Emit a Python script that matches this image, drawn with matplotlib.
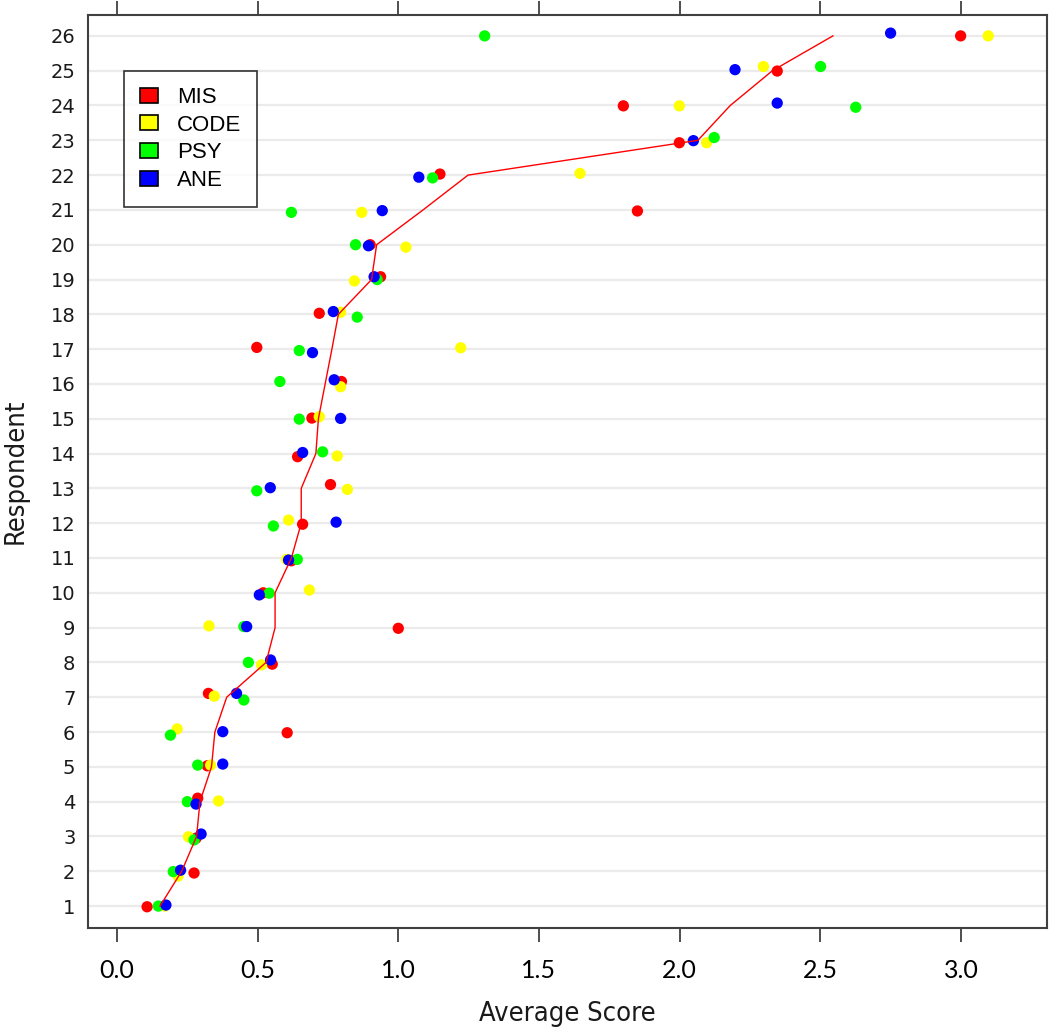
import numpy as np
import matplotlib.pyplot as plt
from matplotlib.patches import Patch

respondent = list(range(1, 27))

# average score per respondent for each group, with the small vertical offsets seen in the chart
mis_x = [0.107, 0.274, 0.281, 0.287, 0.321, 0.605, 0.325, 0.552, 1.0, 0.52, 0.62, 0.66, 0.759,
         0.642, 0.693, 0.798, 0.497, 0.719, 0.937, 0.90, 1.85, 1.148, 1.999, 1.80, 2.347, 2.999]
mis_y = [0.98, 1.95, 2.95, 4.10, 5.03, 5.98, 7.11, 7.95, 8.98, 10.0, 10.92, 11.97, 13.11,
         13.91, 15.02, 16.07, 17.05, 18.03, 19.08, 20.0, 20.97, 22.03, 22.93, 23.99, 24.99, 26.0]

code_x = [0.17, 0.217, 0.254, 0.361, 0.333, 0.214, 0.346, 0.514, 0.327, 0.684, 0.603, 0.61, 0.819,
          0.783, 0.719, 0.795, 1.222, 0.795, 0.844, 1.027, 0.87, 1.646, 2.096, 1.999, 2.298, 3.097]
code_y = [1.0, 1.86, 2.99, 4.02, 5.05, 6.09, 7.03, 7.93, 9.05, 10.08, 10.96, 12.09, 12.97,
          13.93, 15.06, 15.92, 17.04, 18.06, 18.96, 19.93, 20.93, 22.05, 22.93, 23.99, 25.12, 26.0]

psy_x = [0.147, 0.2, 0.274, 0.25, 0.287, 0.19, 0.451, 0.467, 0.451, 0.541, 0.641, 0.556, 0.497,
         0.731, 0.648, 0.579, 0.648, 0.854, 0.925, 0.848, 0.62, 1.122, 2.123, 2.626, 2.501, 1.307]
psy_y = [1.0, 1.99, 2.90, 4.0, 5.05, 5.91, 6.92, 8.0, 9.03, 9.99, 10.96, 11.92, 12.93,
         14.05, 14.99, 16.07, 16.96, 17.92, 19.0, 20.0, 20.93, 21.92, 23.08, 23.95, 25.12, 26.0]

ane_x = [0.174, 0.226, 0.299, 0.281, 0.376, 0.376, 0.425, 0.546, 0.461, 0.506, 0.61, 0.779, 0.545,
         0.66, 0.795, 0.772, 0.695, 0.769, 0.914, 0.894, 0.943, 1.073, 2.049, 2.347, 2.197, 2.75]
ane_y = [1.03, 2.03, 3.07, 3.93, 5.08, 6.01, 7.11, 8.07, 9.03, 9.94, 10.94, 12.03, 13.02,
         14.03, 15.01, 16.12, 16.9, 18.08, 19.08, 19.97, 20.98, 21.94, 22.99, 24.07, 25.03, 26.08]

# overall mean per respondent (red line)
mean_x = [0.153, 0.23, 0.283, 0.295, 0.336, 0.348, 0.39, 0.53, 0.562, 0.562, 0.62, 0.655, 0.655,
          0.707, 0.716, 0.74, 0.764, 0.787, 0.905, 0.923, 1.088, 1.248, 2.065, 2.18, 2.33, 2.545]

groups = ["MIS", "CODE", "PSY", "ANE"]
colors = ["#ff0000", "#ffff00", "#00ff00", "#0000ff"]
xticks = [0.0, 0.5, 1.0, 1.5, 2.0, 2.5, 3.0]

fig = plt.figure(figsize=(10.5, 10.3), dpi=100)
ax = fig.add_axes([88 / 1050, (1030 - 928) / 1030, (1047 - 88) / 1050, (928 - 15) / 1030])

for r in respondent:
    ax.axhline(r, color="#ebebeb", lw=1.6, zorder=0)

for xs, ys, c in zip([mis_x, code_x, psy_x, ane_x], [mis_y, code_y, psy_y, ane_y], colors):
    ax.scatter(xs, ys, s=66, color=c, edgecolors="none", zorder=2)

ax.plot(mean_x, respondent, color="#ff0000", lw=1.0, zorder=3)

ax.set_xlim(-0.103, 3.306)
ax.set_ylim(0.37, 26.6)

ax.set_xticks(xticks)
ax.set_xticklabels([f"{t:.1f}" for t in xticks], fontsize=18, family=["Lato", "DejaVu Sans"])
ax.tick_params(axis="x", which="both", direction="out", length=10, width=1.3, color="#404040",
               pad=12, top=True, labeltop=False)
ax.set_yticks(respondent)
ax.set_yticklabels([str(r) for r in respondent], fontsize=14, family="DejaVu Sans",
                   color="#1a1a1a")
ax.tick_params(axis="y", length=0, pad=9)

for sp in ax.spines.values():
    sp.set_color("#404040")
    sp.set_linewidth(1.5)

ax.set_xlabel("Average Score", fontsize=19.5, family="DejaVu Sans", stretch="condensed",
              color="#1a1a1a", labelpad=14)
ax.set_ylabel("Respondent", fontsize=19.5, family="DejaVu Sans", stretch="condensed",
              color="#1a1a1a", labelpad=16)

handles = [Patch(facecolor=c, edgecolor="black", lw=1.2) for c in colors]
leg = ax.legend(handles, groups, loc="upper left", bbox_to_anchor=(0.0375, 0.9387),
                prop={"family": ["Liberation Sans", "DejaVu Sans"], "size": 16},
                frameon=True, fancybox=False, edgecolor="black",
                handlelength=0.82, handleheight=0.64, handletextpad=0.85, labelspacing=0.3,
                borderpad=0.72, borderaxespad=0)
leg.get_frame().set_linewidth(1.2)

fig.savefig("out.png", dpi=100)
